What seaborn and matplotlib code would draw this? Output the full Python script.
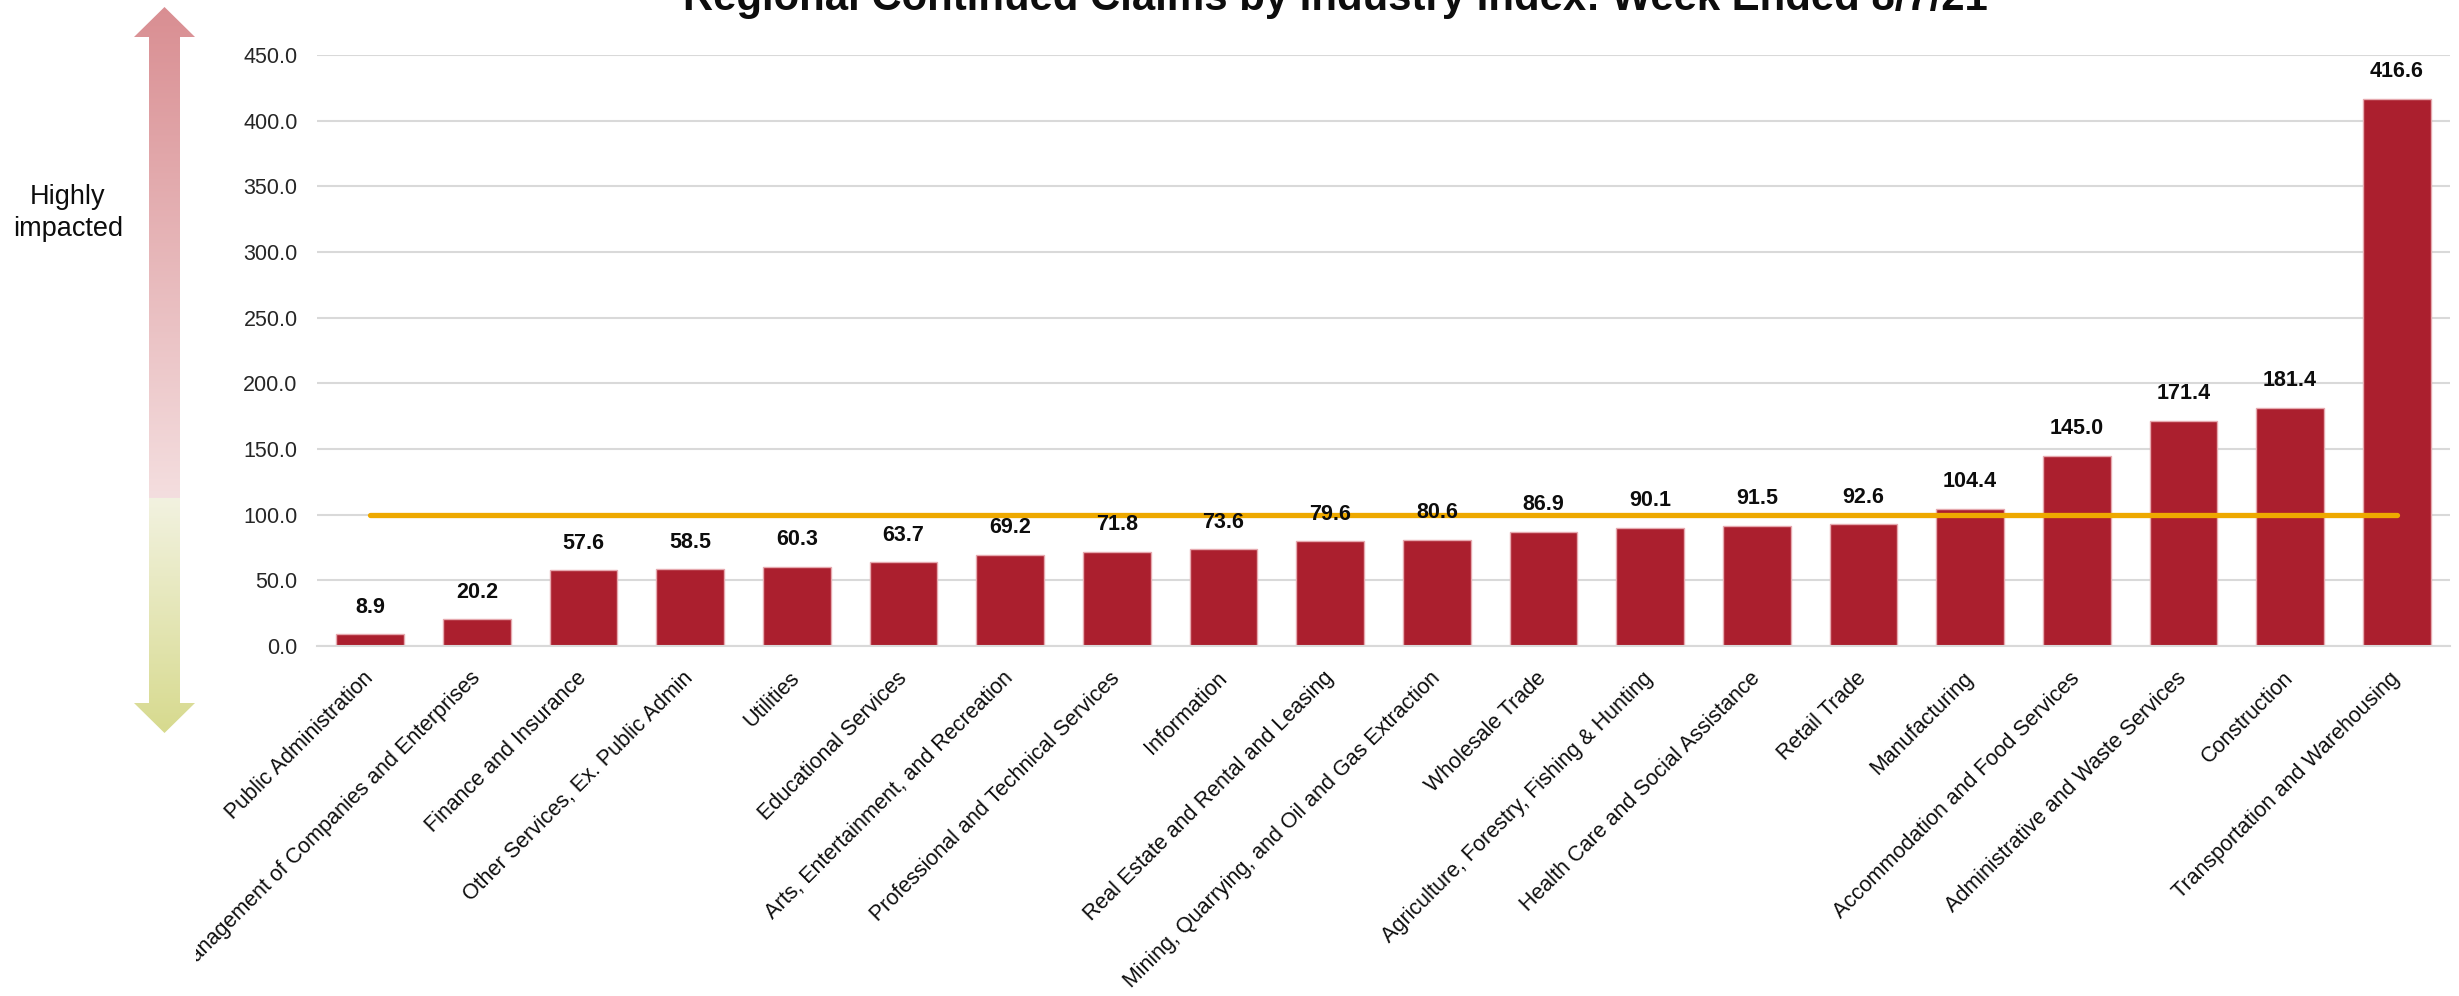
import numpy as np
import pandas as pd
import matplotlib
matplotlib.use("Agg")
import matplotlib.pyplot as plt
from matplotlib.patches import Polygon
import seaborn as sns

# data
industries = [
    "Public Administration",
    "Management of Companies and Enterprises",
    "Finance and Insurance",
    "Other Services, Ex. Public Admin",
    "Utilities",
    "Educational Services",
    "Arts, Entertainment, and Recreation",
    "Professional and Technical Services",
    "Information",
    "Real Estate and Rental and Leasing",
    "Mining, Quarrying, and Oil and Gas Extraction",
    "Wholesale Trade",
    "Agriculture, Forestry, Fishing & Hunting",
    "Health Care and Social Assistance",
    "Retail Trade",
    "Manufacturing",
    "Accommodation and Food Services",
    "Administrative and Waste Services",
    "Construction",
    "Transportation and Warehousing",
]
index_values = [8.9, 20.2, 57.6, 58.5, 60.3, 63.7, 69.2, 71.8, 73.6, 79.6,
                80.6, 86.9, 90.1, 91.5, 92.6, 104.4, 145.0, 171.4, 181.4, 416.6]
baseline = 100.0
y_ticks = np.arange(0, 451, 50)
title = "Regional Continued Claims by Industry Index: Week Ended 8/7/21"

sns.set_theme(style="white")
plt.rcParams["font.family"] = ["Liberation Sans", "DejaVu Sans"]

df = pd.DataFrame({"industry": industries, "index": index_values})
n = len(industries)

W, H = 2459, 996
fig = plt.figure(figsize=(W / 100, H / 100), dpi=100)
ax = fig.add_axes([317 / W, 1 - 646 / H, (2450 - 317) / W, (646 - 55) / H])

sns.barplot(data=df, x="industry", y="index", color="#AB1F2E", saturation=1,
            width=0.635, edgecolor="#E6A9AF", linewidth=1.0, ax=ax, zorder=2)

# baseline index line at 100
ax.plot([0, n - 1], [baseline, baseline], color="#EEA900", lw=3.8,
        solid_capstyle="round", zorder=3)

# value labels
for i, v in enumerate(index_values):
    ax.annotate(f"{v:.1f}", (i, v), xytext=(0, 12), textcoords="offset points",
                ha="center", va="bottom", fontsize=15.5, fontweight="bold",
                color="#0D0D0D")

ax.set_xlim(-0.5, n - 0.5)
ax.set_ylim(0, 450)
ax.set_yticks(y_ticks)
ax.set_yticklabels([f"{t:.1f}" for t in y_ticks], fontsize=15.5, color="#262626")
ax.yaxis.grid(True, color="#D9D9D9", lw=1.5)
ax.set_axisbelow(True)
ax.set_xticks(range(n))
ax.set_xticklabels(industries, rotation=45, ha="right", va="center",
                   rotation_mode="anchor", fontsize=15.5, color="#0D0D0D")
ax.tick_params(axis="x", length=0, pad=21)
ax.tick_params(axis="y", length=0, pad=14)
ax.set_xlabel("")
ax.set_ylabel("")
for side in ["top", "right", "left"]:
    ax.spines[side].set_visible(False)
ax.spines["bottom"].set_color("#D9D9D9")
ax.spines["bottom"].set_linewidth(1.5)

# gradient double arrow on a white panel at the left (pixel coordinates);
# the panel covers the start of the longest label as in the reference
PW = 196
side_ax = fig.add_axes([0, 0, PW / W, 1], zorder=5)
side_ax.set_facecolor("white")
side_ax.set_xticks([])
side_ax.set_yticks([])
for s in side_ax.spines.values():
    s.set_visible(False)

top_y, split_y, bot_y = 7, 498, 733
pink_a, pink_b = np.array([217, 142, 146]), np.array([244, 222, 223])
green_a, green_b = np.array([242, 242, 224]), np.array([215, 218, 142])
grad = np.vstack([
    np.linspace(pink_a, pink_b, split_y - top_y),
    np.linspace(green_a, green_b, bot_y - split_y),
]) / 255.0
grad = grad[:, None, :]
im = side_ax.imshow(grad, extent=[130, 200, bot_y, top_y], aspect="auto",
                    interpolation="bilinear", origin="upper")
arrow = Polygon([(164.5, top_y), (195, 37), (180, 37), (180, 703), (195, 703),
                 (164.5, bot_y), (134, 703), (149, 703), (149, 37), (134, 37)],
                closed=True, facecolor="none", edgecolor="none",
                transform=side_ax.transData)
side_ax.add_patch(arrow)
im.set_clip_path(arrow)
side_ax.set_xlim(0, PW)
side_ax.set_ylim(H, 0)

side_ax.text(68, 213, "Highly\nimpacted", ha="center", va="center",
             fontsize=19.5, linespacing=1.3, color="#0D0D0D")

# title, partly cut off at the top as in the reference
t = fig.text(1335 / W, 1 - 10 / H, title, ha="center", va="baseline",
             fontsize=28, fontweight="bold", color="#0D0D0D")
fig.canvas.draw()
tw = t.get_window_extent().width
t.set_fontsize(28 * 1304 / tw)

fig.savefig("out.png", dpi=100)
